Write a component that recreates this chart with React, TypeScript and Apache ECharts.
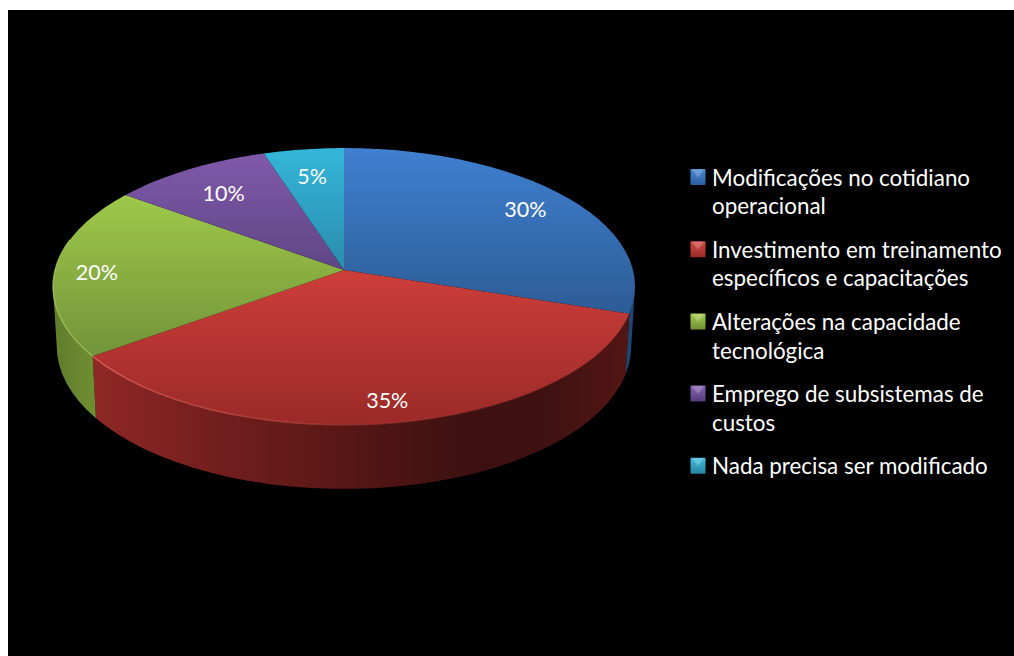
import React, { useEffect, useRef } from "react";
import * as echarts from "echarts";

const categories = [
  ["Modificações no cotidiano", "operacional"],
  ["Investimento em treinamento", "específicos e capacitações"],
  ["Alterações na capacidade", "tecnológica"],
  ["Emprego de subsistemas de", "custos"],
  ["Nada precisa ser modificado"],
];
const shares = [30, 35, 20, 10, 5];
const shareLabels = ["30%", "35%", "20%", "10%", "5%"];

// Top faces, lit from above.
const topShades = [
  ["#3f80d0", "#2d5c96"],
  ["#cd3e3a", "#9a2a28"],
  ["#9ec94a", "#72933a"],
  ["#8059aa", "#5f4685"],
  ["#34b6d9", "#2a8cab"],
];
const swatchShades = [
  ["#4a88d4", "#2c5e9c"],
  ["#d34a46", "#9a2a28"],
  ["#a6cf4e", "#6f8f34"],
  ["#8a65b4", "#533c7a"],
  ["#42bedf", "#25839f"],
];

// Perspective disc: apex position, radii and foreshortening.
const CX = 344;
const CY = 270;
const RX = 289;
const RY = 136.5;
const TILT = 0.119;
const SEGMENTS = 96;
const LABEL_RADIUS = [0.82, 0.86, 0.855, 0.76, 0.77];
const LABEL_DROP = 1.5;

// Angles where the rim is tangent to the vertical: the wall shows only between them.
const WALL_FROM = Math.acos(-TILT);
const WALL_TO = Math.PI * 2 - WALL_FROM;

const project = (theta: number, r = 1) => {
  const u = r * Math.sin(theta);
  const v = -r * Math.cos(theta);
  const d = 1 - TILT * v;
  return [CX + (RX * u) / d, CY + (RY * v) / d, v];
};

const lower = (theta: number) => {
  const [x, y, v] = project(theta);
  return [CX + (x - CX) * 0.987, y + 59 + 5 * v];
};

const angleOf = (share: number) => (share / 100) * Math.PI * 2;
const startOf = (index: number) =>
  angleOf(shares.slice(0, index).reduce((a, b) => a + b, 0));

const arc = (from: number, to: number, at: (t: number) => number[]) => {
  const pts: number[][] = [];
  const n = Math.max(2, Math.ceil(((to - from) / (Math.PI * 2)) * SEGMENTS));
  for (let i = 0; i <= n; i++) pts.push(at(from + ((to - from) * i) / n).slice(0, 2));
  return pts;
};

const vertical = (a: string, b: string) =>
  new echarts.graphic.LinearGradient(0, 0, 0, 1, [
    { offset: 0, color: a },
    { offset: 1, color: b },
  ]);

const wallFill = (index: number) => {
  if (index === 1) {
    return new echarts.graphic.LinearGradient(0, 0, 1, 0, [
      { offset: 0, color: "#8f2826" },
      { offset: 0.22, color: "#731f1e" },
      { offset: 0.47, color: "#571715" },
      { offset: 0.7, color: "#3c1110" },
      { offset: 0.85, color: "#401211" },
      { offset: 1, color: "#541614" },
    ]);
  }
  if (index === 2) {
    return new echarts.graphic.LinearGradient(0, 0, 1, 0, [
      { offset: 0, color: "#5f7c2b" },
      { offset: 1, color: "#6f8f32" },
    ]);
  }
  return "#1d4672";
};

const rimStroke = (index: number) => {
  if (index === 1) {
    return new echarts.graphic.LinearGradient(0, 0, 1, 0, [
      { offset: 0, color: "rgba(228,104,92,0.85)" },
      { offset: 0.5, color: "rgba(200,70,60,0.45)" },
      { offset: 1, color: "rgba(170,50,45,0)" },
    ]);
  }
  return "rgba(176,214,96,0.7)";
};

const renderWall = (params: any) => {
  const i = params.dataIndex;
  const from = Math.max(startOf(i), WALL_FROM);
  const to = Math.min(startOf(i) + angleOf(shares[i]), WALL_TO);
  if (to <= from) return { type: "group", children: [] };
  const top = arc(from, to, project);
  const bottom = arc(from, to, lower).reverse();
  return {
    type: "polygon",
    shape: { points: [...top, ...bottom] },
    style: { fill: wallFill(i) },
    silent: true,
  };
};

const renderTop = (params: any) => {
  const i = params.dataIndex;
  const from = startOf(i);
  const to = from + angleOf(shares[i]);
  const [lx, ly] = project((from + to) / 2, LABEL_RADIUS[i]);
  const children: any[] = [
    {
      type: "polygon",
      shape: { points: [[CX, CY], ...arc(from, to, project)] },
      style: { fill: vertical(topShades[i][0], topShades[i][1]) },
      silent: true,
    },
  ];
  // Bevelled highlight along the front edge of the disc.
  const edgeFrom = Math.max(from, WALL_FROM);
  const edgeTo = Math.min(to, WALL_TO + 0.35);
  if (edgeTo > edgeFrom && i !== 0) {
    children.push({
      type: "polyline",
      shape: { points: arc(edgeFrom, edgeTo, project) },
      style: { stroke: rimStroke(i), lineWidth: 1.4, fill: "none" },
      silent: true,
    });
  }
  children.push({
    type: "text",
    style: {
      text: shareLabels[i],
      x: lx,
      y: ly + LABEL_DROP,
      fill: "#ffffff",
      font: '21.5px Lato, "Open Sans", sans-serif',
      align: "center",
      verticalAlign: "middle",
    },
    silent: true,
  });
  return { type: "group", children };
};

const LEGEND_X = 690.5;
const LEGEND_TEXT_X = 712;
const LEGEND_TOP = 177;
const LEGEND_LINE = 28.6;
const LEGEND_GAP = 15;

const legendGraphics = () => {
  const out: any[] = [];
  let y = LEGEND_TOP;
  categories.forEach((lines, i) => {
    out.push({
      type: "rect",
      shape: { x: LEGEND_X, y: y - 8, width: 15, height: 16, r: 1 },
      style: { fill: vertical(swatchShades[i][0], swatchShades[i][1]) },
      silent: true,
    });
    out.push({
      type: "polygon",
      shape: {
        points: [
          [LEGEND_X + 1.5, y - 7.5],
          [LEGEND_X + 13.5, y - 7.5],
          [LEGEND_X + 7.5, y + 0.5],
        ],
      },
      style: { fill: "#ffffff", opacity: 0.22 },
      silent: true,
    });
    lines.forEach((line) => {
      out.push({
        type: "text",
        style: {
          text: line,
          x: LEGEND_TEXT_X,
          y,
          fill: "#ffffff",
          font: '22.4px Lato, "Open Sans", sans-serif',
          align: "left",
          verticalAlign: "middle",
        },
        silent: true,
      });
      y += LEGEND_LINE;
    });
    y += LEGEND_GAP;
  });
  return out;
};

export default function App() {
  const ref = useRef<HTMLDivElement>(null);
  useEffect(() => {
    const chart = echarts.init(ref.current!, undefined, { renderer: "svg" });
    const data = shares.map((value, i) => ({ value, name: categories[i].join(" ") }));
    chart.setOption({
      animation: false,
      backgroundColor: "#ffffff",
      graphic: [
        {
          type: "rect",
          z: -10,
          shape: { x: 8, y: 10, width: 1006, height: 646 },
          style: { fill: "#000000" },
          silent: true,
        },
        ...legendGraphics(),
      ],
      series: [
        { type: "custom", coordinateSystem: "none", z: 1, renderItem: renderWall, data },
        { type: "custom", coordinateSystem: "none", z: 2, renderItem: renderTop, data },
      ],
    });
    return () => chart.dispose();
  }, []);
  return (
    <div
      ref={ref}
      style={{ position: "fixed", left: 0, top: 0, width: 1014, height: 656 }}
    />
  );
}
